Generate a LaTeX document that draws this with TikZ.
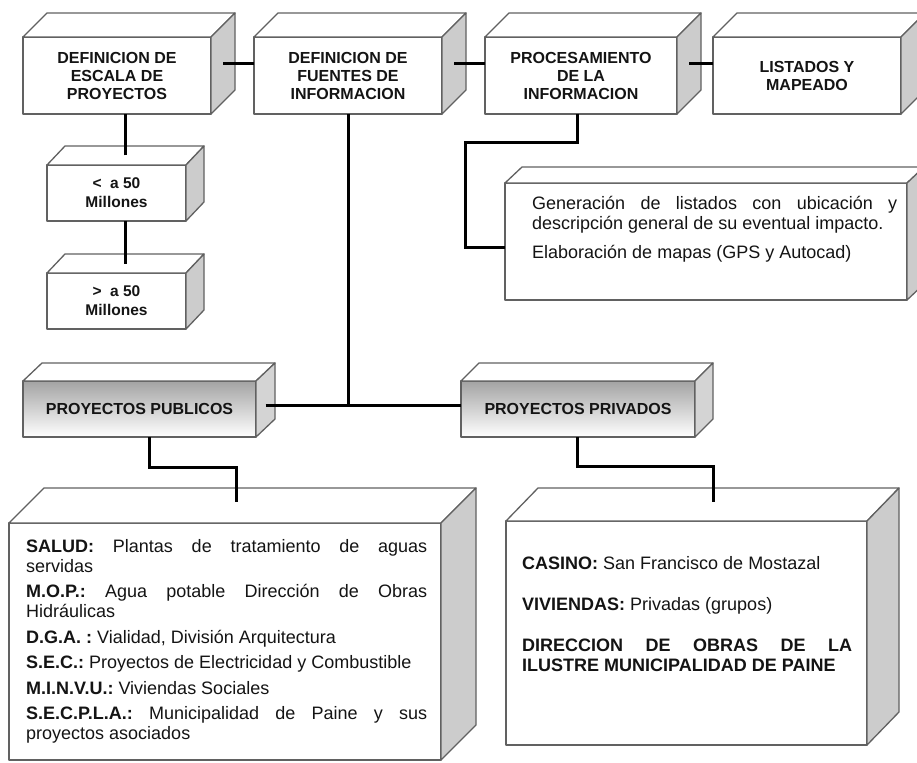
\documentclass[tikz,border=0pt]{standalone}
\usepackage{fontspec}
\setmainfont{Liberation Sans}
\usetikzlibrary{calc}
\tikzset{
  edge/.style={draw=black!62, line width=1.3pt, line join=round},
  front/.style={edge, fill=white, inner sep=0pt, outer sep=0pt},
  face/.style={edge, fill=white},
  grad/.style={top color=black!36, middle color=black!7, bottom color=white},
  conn/.style={draw=black, line width=3pt},
  hdr/.style={font=\fontsize{16}{18}\selectfont\bfseries, align=center, text=black!92},
  sml/.style={font=\fontsize{15.5}{19}\selectfont\bfseries, align=center, text=black!92},
  body/.style={font=\fontsize{18}{20}\selectfont\frenchspacing, align=justify, text=black!92, inner sep=0pt, anchor=north west},
}
\newcommand\mycube[4]{%
  \path[face] (#1.north west) -- ++(#2,-#3) -- ($(#1.north east)+(#2,-#3)$) -- (#1.north east) -- cycle;
  \path[face, fill=#4] (#1.north east) -- ++(#2,-#3) -- ($(#1.south east)+(#2,-#3)$) -- (#1.south east) -- cycle;
  \coordinate (#1-side) at ($(#1.east)+(#2/2,-#3/2)$);
  \coordinate (#1-top) at ($(#1.north)+(#2/2,-#3/2)$);
}
\begin{document}
\begin{tikzpicture}[x=1pt, y=-1pt]
\clip (0,0) rectangle (917,762);
\fill[white] (0,0) rectangle (917,762);

% top row
\node[front, hdr, minimum width=188pt, minimum height=77pt] (b1) at (117,75.5) {DEFINICION DE\\ESCALA DE\\PROYECTOS};
\mycube{b1}{24}{24}{black!20}
\node[front, hdr, minimum width=188pt, minimum height=77pt] (b2) at (348,75.5) {DEFINICION DE\\FUENTES DE\\INFORMACION};
\mycube{b2}{24}{24}{black!20}
\node[front, hdr, minimum width=192pt, minimum height=77pt] (b3) at (581,75.5) {PROCESAMIENTO\\DE LA\\INFORMACION};
\mycube{b3}{24}{24}{black!20}
\node[front, hdr, minimum width=188pt, minimum height=77pt] (b4) at (807,75.5) {LISTADOS Y\\MAPEADO};
\mycube{b4}{24}{24}{black!20}

% small boxes
\node[front, sml, minimum width=139pt, minimum height=56pt] (sa) at (116.5,193) {<\hspace{0.55em}a 50\\Millones};
\mycube{sa}{18}{19}{black!20}
\node[front, sml, minimum width=139pt, minimum height=56pt] (sb) at (116.5,301) {>\hspace{0.55em}a 50\\Millones};
\mycube{sb}{18}{19}{black!20}

% listados description box
\node[front, minimum width=402pt, minimum height=117pt] (lst) at (706,241.5) {};
\mycube{lst}{17}{16}{black!20}
\node[body, text width=365pt] (lsttext) at (532,196) {%
\parskip=9pt
Generación de listados con ubicación y\linebreak descripción general de su eventual impacto.\par
Elaboración de mapas (GPS y Autocad)\par};

% proyectos
\node[front, grad, hdr, minimum width=233pt, minimum height=56pt] (pub) at (139.5,409) {PROYECTOS PUBLICOS};
\mycube{pub}{19}{18}{black!17}
\node[front, grad, hdr, minimum width=234pt, minimum height=56pt] (priv) at (578,409) {PROYECTOS PRIVADOS};
\mycube{priv}{18}{18}{black!17}

% bottom boxes
\node[front, minimum width=432pt, minimum height=237pt] (bl) at (225,641.5) {};
\mycube{bl}{35}{35}{black!20}
\node[body, text width=401pt] (bltext) at (26,539) {%
\parskip=5.5pt
\textbf{SALUD:} Plantas de tratamiento de aguas\linebreak servidas\par
\textbf{M.O.P.:} Agua potable Dirección de Obras\linebreak Hidráulicas\par
\textbf{D.G.A. :} Vialidad, División Arquitectura\par
\textbf{S.E.C.:} Proyectos de Electricidad y Combustible\par
\textbf{M.I.N.V.U.:} Viviendas Sociales\par
\textbf{S.E.C.P.L.A.:} Municipalidad de Paine y sus\linebreak proyectos asociados\par};

\node[front, minimum width=361pt, minimum height=224pt] (br) at (686.5,633) {};
\mycube{br}{32}{33}{black!20}
\node[body, text width=330pt] (brtext) at (522,556) {%
\parskip=21pt
\textbf{CASINO:} San Francisco de Mostazal\par
\textbf{VIVIENDAS:} Privadas (grupos)\par
\textbf{DIRECCION DE OBRAS DE LA\linebreak ILUSTRE MUNICIPALIDAD DE PAINE}\par};

% connectors
\coordinate (hj) at ($(pub-side)+(0,5)$);
\draw[conn] (b1-side) -- (b1-side -| b2.west);
\draw[conn] (b2-side) -- (b2-side -| b3.west);
\draw[conn] (b3-side) -- (b3-side -| b4.west);
\draw[conn] (sa-top) -- (sa-top |- b1.south);
\draw[conn] (sb-top) -- (sb-top |- sa.south);
\draw[conn] ($(b3.south)+(-4,0)$) -- ++(0,29) -| ($(lst.west)+(-40,5.5)$) -- ($(lst.west)+(0,5.5)$);
\draw[conn] (b2.south) -- (b2.south |- hj);
\draw[conn] (hj) -- (hj -| priv.west);
\draw[conn] ($(pub.south)+(9.5,0)$) -- ++(0,30) -| ($(bl.north)+(11,-21)$);
\draw[conn] ($(priv.south)+(-1,0)$) -- ++(0,29) -| ($(br.north)+(26.5,-19)$);
\end{tikzpicture}
\end{document}
